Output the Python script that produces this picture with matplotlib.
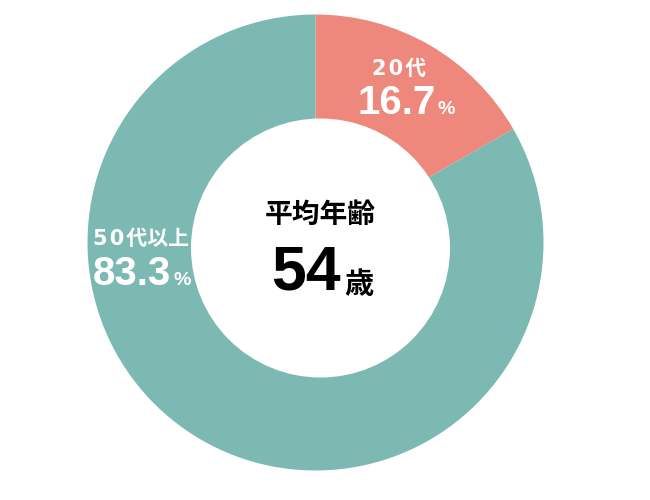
import matplotlib
matplotlib.use("Agg")
import matplotlib.pyplot as plt
from matplotlib.patches import Circle

# Data
categories = ["20代", "50代以上"]
values = [16.7, 83.3]
colors = ["#EE877C", "#7DB9B3"]
center_title = "平均年齢"
avg_age = 54
age_unit = "歳"

W, H = 650, 500
fig = plt.figure(figsize=(6.5, 5), dpi=100)
ax = fig.add_axes([0, 0, 1, 1])

cx, cy = 315.5, H - 242.5
ax.pie(values, startangle=90, counterclock=False, center=(cx, cy), radius=228,
       colors=colors, wedgeprops=dict(linewidth=0))
ax.set_xlim(0, W)
ax.set_ylim(0, H)
ax.set_aspect("equal")
ax.set_axis_off()

cjk = ["Noto Sans CJK JP", "DejaVu Sans"]
lab = ["DejaVu Sans", "Noto Sans CJK JP"]
num = ["Liberation Sans", "DejaVu Sans"]

def py(y):
    return H - y

def spaced(s):
    return "".join(ch + "\u200a" if ch.isdigit() else ch for ch in s)

# Slice labels (drawn below the inner white circle)
label_pos = [(372, 75, 357, 114), (93, 245, 93, 285)]
for cat, val, (lx, ly, nx, ny) in zip(categories, values, label_pos):
    ax.text(lx, py(ly), spaced(cat), family=lab, weight="bold", fontsize=15,
            color="white", ha="left", va="baseline", zorder=2)
    t = ax.text(nx, py(ny), f"{val:.1f}", family=num, weight="bold", fontsize=29,
                color="white", ha="left", va="baseline", zorder=2)
    fig.canvas.draw()
    bb = t.get_window_extent()
    x_end = ax.transData.inverted().transform((bb.x1, bb.y0))[0]
    ax.text(x_end + 2, py(ny), "%", family=num, weight="bold", fontsize=14,
            color="white", ha="left", va="baseline", zorder=2)

# Inner hole
ax.add_patch(Circle((320.5, py(248)), 129.5, facecolor="white", edgecolor="none", zorder=3))

# Center text
ax.text(320, py(215), center_title, family=cjk, weight="bold", fontsize=20,
        color="black", ha="center", va="center", zorder=4)
ax.text(271, py(290), str(avg_age), family=num,
        weight="bold", fontsize=45, color="black", ha="left", va="baseline", zorder=4)
ax.text(344, py(293), age_unit, family=cjk, weight="bold", fontsize=21,
        color="black", ha="left", va="baseline", zorder=4)

fig.savefig("out.png", dpi=100, facecolor="white")
